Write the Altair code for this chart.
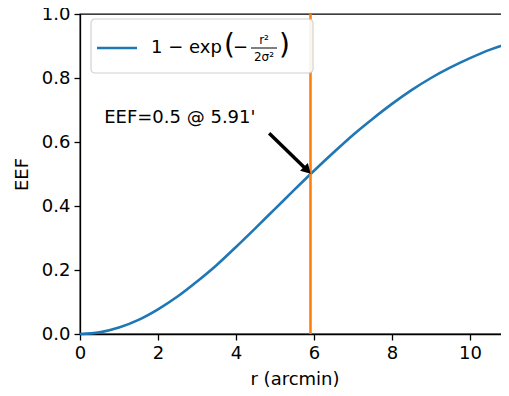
import altair as alt
import pandas as pd

# values
r_vals = [0, 0.5, 1, 1.5, 2, 2.5, 3, 3.5, 4, 4.5, 5, 5.5, 6, 6.5, 7, 7.5, 8, 8.5, 9, 9.5, 10, 10.5, 11]
eef_vals = [0.0, 0.005, 0.02, 0.044, 0.077, 0.117, 0.164, 0.215, 0.272, 0.331, 0.391, 0.451,
            0.510, 0.567, 0.622, 0.672, 0.719, 0.762, 0.800, 0.833, 0.862, 0.888, 0.909]
r_half = 5.91
note_text = ["EEF=0.5 @ 5.91'"]
note_pos = [0.62, 0.675]
arrow_start = [4.85, 0.627]
arrow_end = [5.80, 0.515]

FONT = "DejaVu Sans"
BLUE = "#1f77b4"
ORANGE = "#ff7f0e"
FS = 18

xs = alt.Scale(domain=[0, 11], nice=False)
ys = alt.Scale(domain=[0, 1], nice=False)

curve_df = pd.DataFrame({"r": r_vals, "eef": eef_vals})
curve = alt.Chart(curve_df).mark_line(color=BLUE, strokeWidth=2.6, interpolate="monotone").encode(
    x=alt.X("r:Q", scale=xs, title="r (arcmin)",
            axis=alt.Axis(values=[0, 2, 4, 6, 8, 10], format="d", labelFlush=False)),
    y=alt.Y("eef:Q", scale=ys, title="EEF",
            axis=alt.Axis(values=[0, 0.2, 0.4, 0.6, 0.8, 1.0], format=".1f", labelFlush=False)),
)

vline = alt.Chart(pd.DataFrame({"r": [r_half]})).mark_rule(color=ORANGE, strokeWidth=2.6).encode(
    x=alt.X("r:Q", scale=xs)
)

note = alt.Chart(pd.DataFrame({"x": [note_pos[0]], "y": [note_pos[1]], "t": note_text})).mark_text(
    align="left", baseline="middle", font=FONT, fontSize=FS, color="black"
).encode(x=alt.X("x:Q", scale=xs), y=alt.Y("y:Q", scale=ys), text="t:N")

arrow_df = pd.DataFrame({"x": [arrow_start[0]], "y": [arrow_start[1]],
                         "x2": [arrow_end[0]], "y2": [arrow_end[1]]})
arrow_line = alt.Chart(arrow_df).mark_rule(color="black", strokeWidth=3.5).encode(
    x=alt.X("x:Q", scale=xs), y=alt.Y("y:Q", scale=ys), x2="x2:Q", y2="y2:Q"
)
arrow_head = alt.Chart(pd.DataFrame({"x": [arrow_end[0]], "y": [arrow_end[1]]})).mark_point(
    shape="triangle", filled=True, color="black", opacity=1, size=120, angle=135
).encode(x=alt.X("x:Q", scale=xs), y=alt.Y("y:Q", scale=ys))

# legend box (drawn manually)
one = pd.DataFrame({"a": [0]})
leg_box = alt.Chart(one).mark_rect(fill="white", stroke="#cccccc", strokeWidth=1.2, cornerRadius=4,
                                   opacity=0.9).encode(
    x=alt.value(11), x2=alt.value(233), y=alt.value(5), y2=alt.value(59)
)
leg_line = alt.Chart(one).mark_rule(color=BLUE, strokeWidth=2.6).encode(
    x=alt.value(17), x2=alt.value(57), y=alt.value(34), y2=alt.value(34)
)

def txt(s, x, y, size, align="left"):
    return alt.Chart(pd.DataFrame({"t": [s]})).mark_text(
        align=align, baseline="middle", font=FONT, fontSize=size, color="black"
    ).encode(x=alt.value(x), y=alt.value(y), text="t:N")

leg_parts = [
    txt("1 − exp", 71, 34, FS),
    txt("(", 144, 32, 28),
    txt("−", 153, 34, FS),
    txt("r²", 184, 26, 12, "center"),
    txt("2σ²", 184, 43, 12, "center"),
    txt(")", 199, 32, 28),
]
frac_line = alt.Chart(one).mark_rule(color="black", strokeWidth=1).encode(
    x=alt.value(171), x2=alt.value(197), y=alt.value(34), y2=alt.value(34)
)

chart = alt.layer(curve, vline, note, arrow_line, arrow_head, leg_box, leg_line, frac_line, *leg_parts).properties(
    width=429, height=320,
    autosize=alt.AutoSizeParams(type="none"),
    padding={"left": 72, "top": 6, "right": -8, "bottom": 60},
).configure_view(stroke="black", strokeWidth=1.3).configure_axis(
    grid=False, domainColor="black", tickColor="black", labelColor="black", titleColor="black",
    domainWidth=1.3, tickWidth=1.3,
    labelFont=FONT, titleFont=FONT, labelFontSize=FS, titleFontSize=FS, titleFontWeight="normal",
    tickSize=6, labelPadding=4
).configure_axisX(titlePadding=8).configure_axisY(titlePadding=10)

chart.save("out.html", embed_options={"renderer": "svg", "actions": False})
